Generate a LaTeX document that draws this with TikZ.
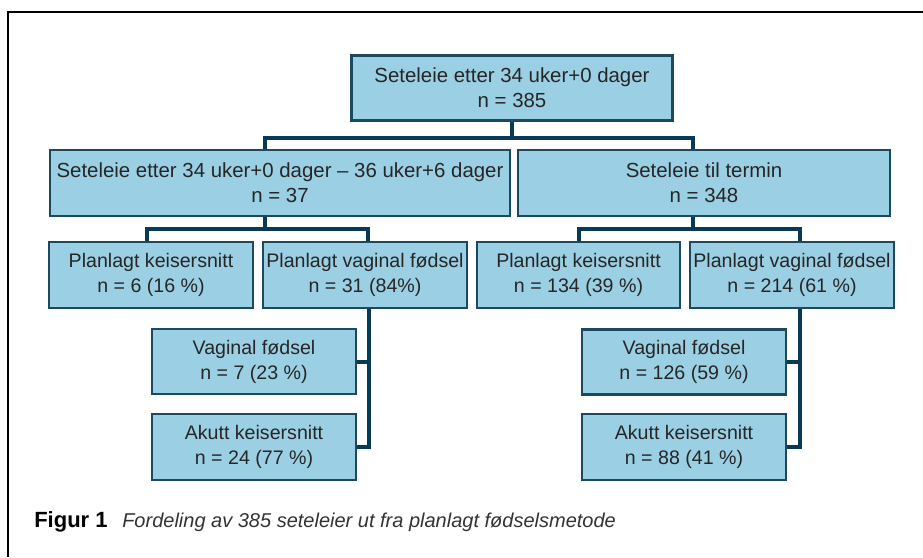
\documentclass[tikz,border=0pt]{standalone}
\usepackage{fontspec}
\setmainfont{Liberation Sans}
\usetikzlibrary{positioning,calc}
\definecolor{boxfill}{RGB}{155,207,228}
\definecolor{boxline}{RGB}{28,72,98}
\definecolor{connc}{RGB}{8,58,88}
\tikzset{
  grp/.style={draw=boxline, fill=boxfill, line width=1.6pt, align=center,
              inner sep=0pt, minimum height=49.5pt, text=black!85,
              font=\fontsize{15.3}{18.75}\selectfont},
  subgrp/.style={grp, minimum width=153pt, font=\fontsize{14.7}{18.75}\selectfont},
  conn/.style={draw=connc, line width=3pt, line join=miter},
  frame/.style={draw=black, line width=1.5pt, line join=miter},
  figcap/.style={anchor=base west, inner sep=0pt, font=\fontsize{15}{18}\selectfont}
}
\begin{document}
\begin{tikzpicture}[x=0.75pt,y=-0.75pt]
\useasboundingbox (0,0) rectangle (923,557);
\draw[frame] (923,12) -- (8,12) -- (8,557);
% top level
\node[grp, minimum width=240.75pt, minimum height=48.75pt] (all) at (512,88) {Seteleie etter 34 uker+0 dager\\n = 385};
% second level
\node[grp, minimum width=345pt] (pre) at (280,183) {Seteleie etter 34 uker+0 dager -- 36 uker+6 dager\\n = 37};
\node[grp, minimum width=279pt] (term) at (704,183) {Seteleie til termin\\n = 348};
% planned method
\node[subgrp] (preCS) at (151,275) {Planlagt keisersnitt\\n = 6 (16 \%)};
\node[subgrp] (preVag) at (365,275) {Planlagt vaginal fødsel\\n = 31 (84\%)};
\node[subgrp, minimum width=152.25pt] (termCS) at (578.5,275) {Planlagt keisersnitt\\n = 134 (39 \%)};
\node[subgrp] (termVag) at (792,275) {Planlagt vaginal fødsel\\n = 214 (61 \%)};
% outcome
\node[subgrp, minimum height=48.75pt] (preVF) at (254,361.5) {Vaginal fødsel\\n = 7 (23 \%)};
\node[subgrp] (preAK) at (254,447) {Akutt keisersnitt\\n = 24 (77 \%)};
\node[subgrp, minimum height=48.75pt] (termVF) at (684,362) {Vaginal fødsel\\n = 126 (59 \%)};
\node[subgrp] (termAK) at (684,447) {Akutt keisersnitt\\n = 88 (41 \%)};
% connectors
\draw[conn] (all.south) -- ++(0,16.5) coordinate (j0);
\draw[conn] ($(pre.north)+(-15,0)$) |- (j0) -| ($(term.north)+(-11,0)$);
\draw[conn] ($(pre.south)+(-15,0)$) -- ++(0,12) coordinate (j1);
\draw[conn] ($(preCS.north)+(-4,0)$) |- (j1) -| ($(preVag.north)+(3,0)$);
\draw[conn] ($(term.south)+(-11,0)$) -- ++(0,12) coordinate (j2);
\draw[conn] (termCS.north) |- (j2) -| ($(termVag.north)+(8,0)$);
\coordinate (lv) at ($(preVag.south)+(4,0)$);
\draw[conn] (lv) |- (preAK.east);
\draw[conn] (preVF.east) -- (preVF.east -| lv);
\coordinate (rv) at ($(termVag.south)+(8,0)$);
\draw[conn] (rv) |- (termAK.east);
\draw[conn] (termVF.east) -- (termVF.east -| rv);
% caption
\node[figcap] (capt) at (34,527) {{\fontsize{16.5}{18}\selectfont\bfseries Figur 1}\hspace{11pt}{\itshape\color{black!80}Fordeling av 385 seteleier ut fra planlagt fødselsmetode}};
\end{tikzpicture}
\end{document}
